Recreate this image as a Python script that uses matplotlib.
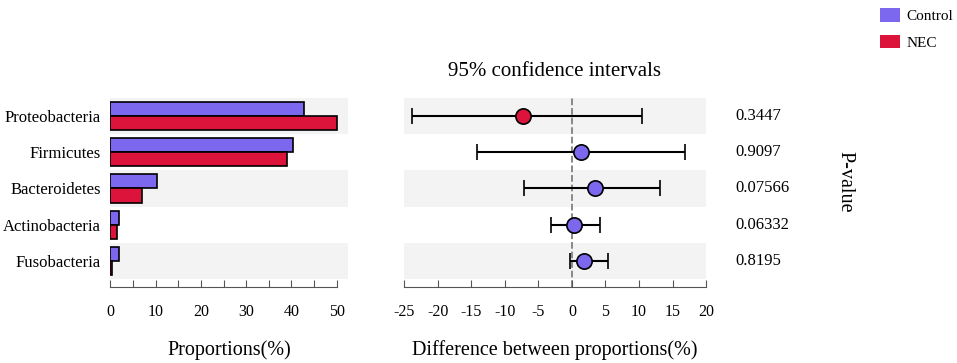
import matplotlib
matplotlib.use("Agg")
import matplotlib.pyplot as plt
from matplotlib.patches import Patch

plt.rcParams['font.family'] = ['Liberation Serif', 'DejaVu Serif']
plt.rcParams['axes.unicode_minus'] = False

# data
phyla = ['Proteobacteria', 'Firmicutes', 'Bacteroidetes', 'Actinobacteria', 'Fusobacteria']
control = [42.7, 40.3, 10.2, 1.85, 2.0]
nec = [50.0, 39.0, 6.9, 1.55, 0.3]
diff = [-7.3, 1.4, 3.5, 0.25, 1.8]
ci_low = [-23.9, -14.2, -7.1, -3.1, -0.3]
ci_high = [10.4, 16.9, 13.2, 4.2, 5.3]
pvals = ['0.3447', '0.9097', '0.07566', '0.06332', '0.8195']

c_ctrl = '#7B68EE'
c_nec = '#DC143C'
band = '#f3f3f3'

fig = plt.figure(figsize=(9.57, 3.63), dpi=100)
ax1 = fig.add_axes([0.1153, 0.2094, 0.2484, 0.5207])
ax2 = fig.add_axes([0.4225, 0.2094, 0.3153, 0.5207])

rows = list(range(len(phyla)))

for ax in (ax1, ax2):
    for i in rows:
        if i % 2 == 0:
            ax.axhspan(i - 0.5, i + 0.5, color=band, zorder=0, lw=0)
    ax.set_ylim(4.72, -0.5)
    for s in ('left', 'right', 'top'):
        ax.spines[s].set_visible(False)
    ax.spines['bottom'].set_color('#555555')
    ax.tick_params(axis='x', direction='in', length=5, color='#555555',
                   pad=12, labelsize=11.5)

# left panel: proportions
ax1.barh([r - 0.195 for r in rows], control, height=0.39, color=c_ctrl,
         edgecolor='black', lw=1.2, zorder=2)
ax1.barh([r + 0.195 for r in rows], nec, height=0.39, color=c_nec,
         edgecolor='black', lw=1.2, zorder=2)
ax1.set_xlim(0, 52.5)
ax1.spines['bottom'].set_bounds(0, 50)
ax1.set_xticks(range(0, 51, 5))
ax1.set_xticklabels([str(v) if v % 10 == 0 else '' for v in range(0, 51, 5)])
ax1.set_yticks(rows)
ax1.set_yticklabels(phyla, fontsize=12)
ax1.tick_params(axis='y', length=0, pad=7)
ax1.set_xlabel('Proportions(%)', fontsize=14.5, labelpad=14.5)

# right panel: differences with CI
ax2.axvline(0, color='grey', ls='--', lw=1.3, zorder=1)
for i in rows:
    col = c_nec if diff[i] < 0 else c_ctrl
    ax2.errorbar(diff[i], i, xerr=[[diff[i] - ci_low[i]], [ci_high[i] - diff[i]]],
                 fmt='o', ms=11, mfc=col, mec='black', mew=1.2,
                 ecolor='black', elinewidth=1.5, capsize=6, capthick=1.5, zorder=3)
ax2.set_xlim(-25, 20)
ax2.set_xticks(range(-25, 21, 5))
ax2.set_yticks([])
ax2.set_xlabel('Difference between proportions(%)', fontsize=14.5, labelpad=14.5)

tr = ax2.get_yaxis_transform()
for i in rows:
    ax2.text(1.096, i, pvals[i], transform=tr, va='center', ha='left',
             fontsize=12, clip_on=False)

fig.text(555 / 957, 1 - 72 / 363, '95% confidence intervals', ha='center',
         va='center', fontsize=15)
fig.text(845 / 957, 1 - 182 / 363, 'P-value', ha='center', va='center',
         rotation=-90, fontsize=14.5)

handles = [Patch(facecolor=c_ctrl, edgecolor='none'),
           Patch(facecolor=c_nec, edgecolor='none')]
fig.legend(handles, ['Control', 'NEC'], loc='upper left',
           bbox_to_anchor=(874 / 957, 1 - 2 / 363), frameon=False,
           fontsize=11, handlelength=1.3, handleheight=1.0,
           labelspacing=0.75, handletextpad=0.45, borderaxespad=0)

fig.savefig('out.png', dpi=100)
